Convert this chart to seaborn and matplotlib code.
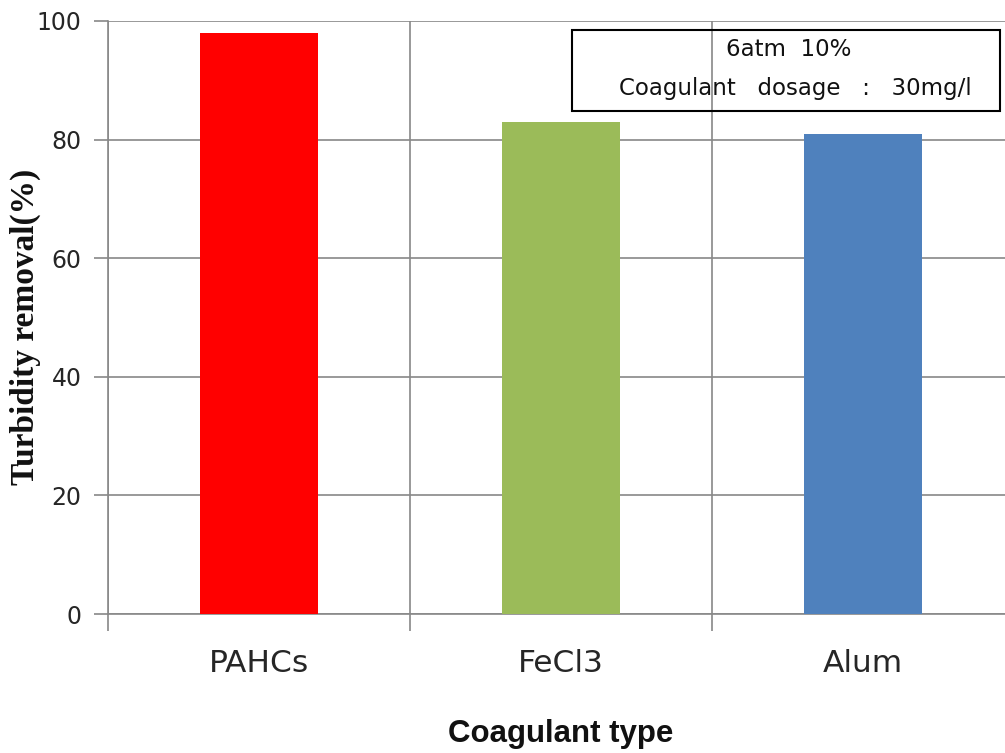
import matplotlib
matplotlib.use("Agg")
import matplotlib.pyplot as plt
import seaborn as sns
import pandas as pd
from matplotlib.patches import Rectangle

coagulants = ["PAHCs", "FeCl3", "Alum"]
removal = [98, 83, 81]
bar_colors = ["#FF0000", "#9BBB59", "#4F81BD"]
y_ticks = [0, 20, 40, 60, 80, 100]

df = pd.DataFrame({"Coagulant": coagulants, "Removal": removal})

sns.set_style("white")
plt.rcParams["font.family"] = ["DejaVu Sans"]

fig = plt.figure(figsize=(10.05, 7.53), dpi=100)
W, H = 1005, 753
ax = fig.add_axes([108 / W, (H - 614) / H, 906 / W, (614 - 21) / H])

sns.barplot(data=df, x="Coagulant", y="Removal", hue="Coagulant",
            palette=bar_colors, width=0.39, saturation=1, legend=False,
            linewidth=0, edgecolor="none", ax=ax, zorder=3)

ax.set_xlim(-0.5, 2.5)
ax.set_ylim(0, 100)
ax.set_yticks(y_ticks)

grid_color = "#888888"
# category boundaries carry the tick marks and vertical grid lines
ax.set_xticks([-0.5, 0.5, 1.5], minor=True)
ax.tick_params(axis="x", which="major", bottom=True, length=0, pad=25,
               labelsize=22.5, labelcolor="#262626")
ax.tick_params(axis="x", which="minor", bottom=True, length=12, width=1.2,
               color=grid_color, direction="out")
ax.tick_params(axis="y", which="major", left=True, length=10, width=1.2,
               color=grid_color, direction="out", pad=9, labelsize=17,
               labelcolor="#262626")
ax.grid(axis="y", which="major", color=grid_color, linewidth=1.2, zorder=0)
ax.grid(axis="x", which="minor", color=grid_color, linewidth=1.2, zorder=0)
ax.set_axisbelow(True)

for side in ["top", "right"]:
    ax.spines[side].set_visible(False)
for side in ["left", "bottom"]:
    ax.spines[side].set_color(grid_color)
    ax.spines[side].set_linewidth(1.2)

ax.set_xlabel("Coagulant type", fontsize=22.5, fontweight="bold",
              family=["Liberation Sans", "DejaVu Sans"], color="#111111",
              labelpad=30)
ax.set_ylabel("Turbidity removal(%)", fontsize=24, fontweight="bold",
              family=["Liberation Serif", "DejaVu Serif"], color="#111111")
ax.yaxis.set_label_coords(-0.074, 0.485)

# condition annotation box
box_l, box_r, box_t, box_b = 572, 1000, 30, 111
fig.patches.append(Rectangle((box_l / W, 1 - box_b / H),
                             (box_r - box_l) / W, (box_b - box_t) / H,
                             transform=fig.transFigure, fill=False,
                             edgecolor="black", linewidth=1.5, zorder=5))
fig.text(789 / W, 1 - 50 / H, "6atm  10%", ha="center", va="center",
         fontsize=16.5, color="#111111")
fig.text(795 / W, 1 - 88 / H, "Coagulant   dosage   :   30mg/l",
         ha="center", va="center", fontsize=16.5, color="#111111")

fig.savefig("out.png", dpi=100)
